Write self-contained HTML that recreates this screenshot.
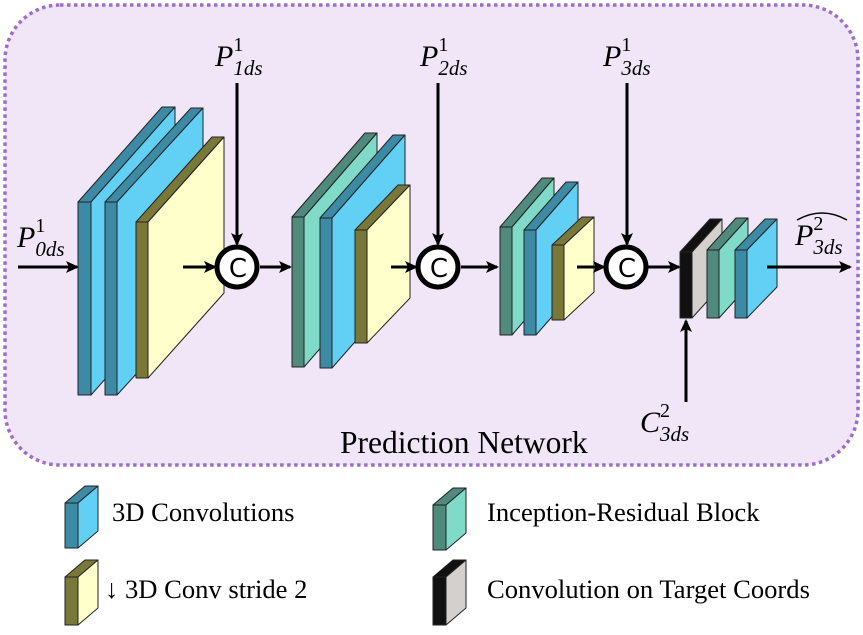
<!DOCTYPE html>
<html><head><meta charset="utf-8"><style>
html,body{margin:0;padding:0;background:#fff;}
svg{display:block;}
.m{font-family:"Liberation Serif",serif;font-style:italic;}
.t{font-family:"Liberation Serif",serif;}
</style></head><body>
<svg id="s" width="863" height="635" viewBox="0 0 863 635" xmlns="http://www.w3.org/2000/svg">
<defs>
<marker id="ah" markerWidth="14" markerHeight="12" refX="11" refY="6" orient="auto" markerUnits="userSpaceOnUse">
<path d="M0,0 L13,6 L0,12 L3,6 Z" fill="#000"/>
</marker>
</defs>
<rect x="5" y="5" width="853" height="460" rx="55" ry="55" fill="#f0e6f8" stroke="#9b6fc9" stroke-width="3.5" stroke-dasharray="3.5,3.5"/>
<g id="slabs"></g>
<g stroke="#000" stroke-width="3" fill="none" marker-end="url(#ah)">
<line x1="18" y1="267" x2="77" y2="267"/>
<line x1="183" y1="267" x2="215" y2="267"/>
<line x1="260" y1="267" x2="290" y2="267"/>
<line x1="391" y1="267" x2="416" y2="267"/>
<line x1="461" y1="267" x2="497" y2="267"/>
<line x1="577" y1="267" x2="604" y2="267"/>
<line x1="648" y1="267" x2="679" y2="267"/>
<line x1="767" y1="267" x2="850" y2="267"/>
<line x1="237" y1="83" x2="237" y2="244"/>
<line x1="438" y1="83" x2="438" y2="244"/>
<line x1="627" y1="83" x2="627" y2="244"/>
<line x1="686" y1="402" x2="686" y2="321"/>
</g>
<g fill="#fff" stroke="#000" stroke-width="5">
<circle cx="237" cy="267" r="20"/>
<circle cx="438" cy="267" r="20"/>
<circle cx="626" cy="267" r="20"/>
</g>
<g font-family="'DejaVu Sans',sans-serif" font-size="26" text-anchor="middle">
<text x="238" y="277">C</text>
<text x="439" y="277">C</text>
<text x="627" y="277">C</text>
</g>
<g class="m" font-size="30">
<text x="215" y="66">P<tspan font-size="20" dy="-15" font-style="normal">1</tspan><tspan font-size="21" dx="-10" dy="24">1ds</tspan></text>
<text x="420" y="66">P<tspan font-size="20" dy="-15" font-style="normal">1</tspan><tspan font-size="21" dx="-10" dy="24">2ds</tspan></text>
<text x="603" y="66">P<tspan font-size="20" dy="-15" font-style="normal">1</tspan><tspan font-size="21" dx="-10" dy="24">3ds</tspan></text>
<text x="17" y="247">P<tspan font-size="20" dy="-15" font-style="normal">1</tspan><tspan font-size="21" dx="-10" dy="24">0ds</tspan></text>
<text x="795" y="245">P<tspan font-size="20" dy="-15" font-style="normal">2</tspan><tspan font-size="21" dx="-10" dy="24">3ds</tspan></text>
<text x="640" y="432">C<tspan font-size="20" dy="-15" font-style="normal">2</tspan><tspan font-size="21" dx="-10" dy="24">3ds</tspan></text>
</g>
<path d="M797,220 Q822,206 847,220" fill="none" stroke="#000" stroke-width="1.5"/>
<text class="t" x="340" y="453" font-size="31.5">Prediction Network</text>
<g class="t" font-size="26.6">
<text x="112" y="521">3D Convolutions</text>
<text x="105" y="598">↓ 3D Conv stride 2</text>
<text x="487" y="521">Inception-Residual Block</text>
<text x="487" y="598">Convolution on Target Coords</text>
</g>
</svg>
<script>
var g=document.getElementById('slabs'),ns='http://www.w3.org/2000/svg';
var C={b:['#3d8aa4','#62d0f5'],t:['#4f8a7c','#80dac8'],y:['#7a7838','#ffffcc'],k:['#111','#d3d0cd']};
function poly(p,f){var e=document.createElementNS(ns,'polygon');e.setAttribute('points',p.map(function(a){return a.join(',')}).join(' '));e.setAttribute('fill',f);e.setAttribute('stroke','#222');e.setAttribute('stroke-width','1');e.setAttribute('stroke-linejoin','round');g.appendChild(e);}
function slab(x,t,y1,y2,dx,dy,c){var d=C[c][0],l=C[c][1];var x2=x+t;
poly([[x,y1],[x2,y1],[x2+dx,y1-dy],[x+dx,y1-dy]],d);
poly([[x2,y1],[x2+dx,y1-dy],[x2+dx,y2-dy],[x2,y2]],l);
poly([[x,y1],[x2,y1],[x2,y2],[x,y2]],d);}
slab(78,13,202,395,84,95,'b');
slab(105,12,202,395,86,94,'b');
slab(136,12,222,378,76,85,'y');
slab(292,12,217,367,73,84,'t');
slab(320,12,218,368,73,83,'b');
slab(355,12,230,343,43,45,'y');
slab(500,12,227,335,42,49,'t');
slab(524,12,230,335,42,48,'b');
slab(552,12,245,320,30,28,'y');
slab(680,12,252,318,30,33,'k');
slab(707,12,250,318,29,32,'t');
slab(735,12,250,318,30,31,'b');
slab(65,13,503,548,20,17,'b');
slab(65,13,577,625,20,17,'y');
slab(433,13,505,550,20,17,'t');
slab(433,13,577,625,20,17,'k');
</script>
</body></html>
